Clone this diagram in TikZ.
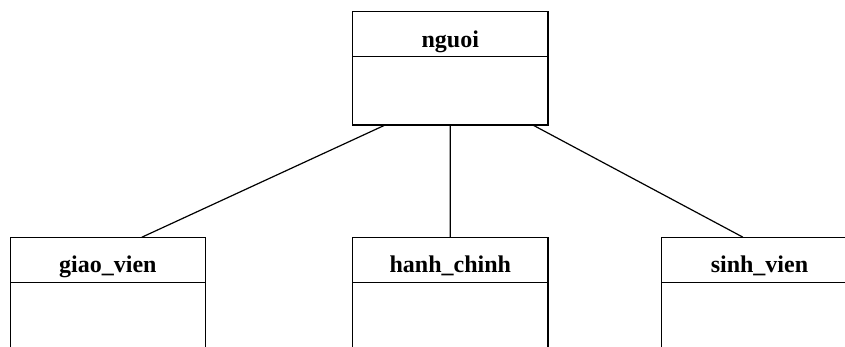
\documentclass[tikz,border=0pt]{standalone}
\usepackage{fontspec}
\setmainfont{Liberation Serif}
\usetikzlibrary{positioning,calc}

% class boxes: a titled header with an empty body underneath
\tikzset{
    classhead/.style={draw, rectangle, inner sep=0pt, outer sep=0pt,
        minimum width=146.6pt, minimum height=33.75pt,
        text height=22.5pt, text depth=3pt,
        font=\fontsize{18}{22}\selectfont\bfseries},
    classbody/.style={draw, rectangle, inner sep=0pt, outer sep=0pt,
        minimum width=146.6pt},
    link/.style={line width=0.9pt}
}

\begin{document}
\begin{tikzpicture}[x=0.75pt, y=-0.75pt, line width=0.9pt]
    \useasboundingbox (0,0) rectangle (845,346);
    \clip (0,0) rectangle (845,346);

    % parent class
    \node[classhead] (nguoi) at (450.25,34.2) {nguoi};
    \node[classbody, minimum height=51.2pt, below=0pt of nguoi] (nguoibody) {};

    % child classes
    \node[classhead] (giao) at (107.9,259.7) {giao\_vien};
    \node[classbody, minimum height=90pt, below=0pt of giao] (giaobody) {};

    \node[classhead] (hanh) at (450.3,259.7) {hanh\_chinh};
    \node[classbody, minimum height=90pt, below=0pt of hanh] (hanhbody) {};

    \node[classhead] (sinh) at (759.45,259.7) {sinh\_vien};
    \node[classbody, minimum height=90pt, below=0pt of sinh] (sinhbody) {};

    % inheritance lines
    \draw[link] ($(nguoibody.south)+(-65,0)$) -- ($(giao.north)+(34,0)$);
    \draw[link] (nguoibody.south) -- (hanh.north);
    \draw[link] ($(nguoibody.south)+(82.5,0)$) -- ($(sinh.north)+(-16.5,0)$);

\end{tikzpicture}
\end{document}
